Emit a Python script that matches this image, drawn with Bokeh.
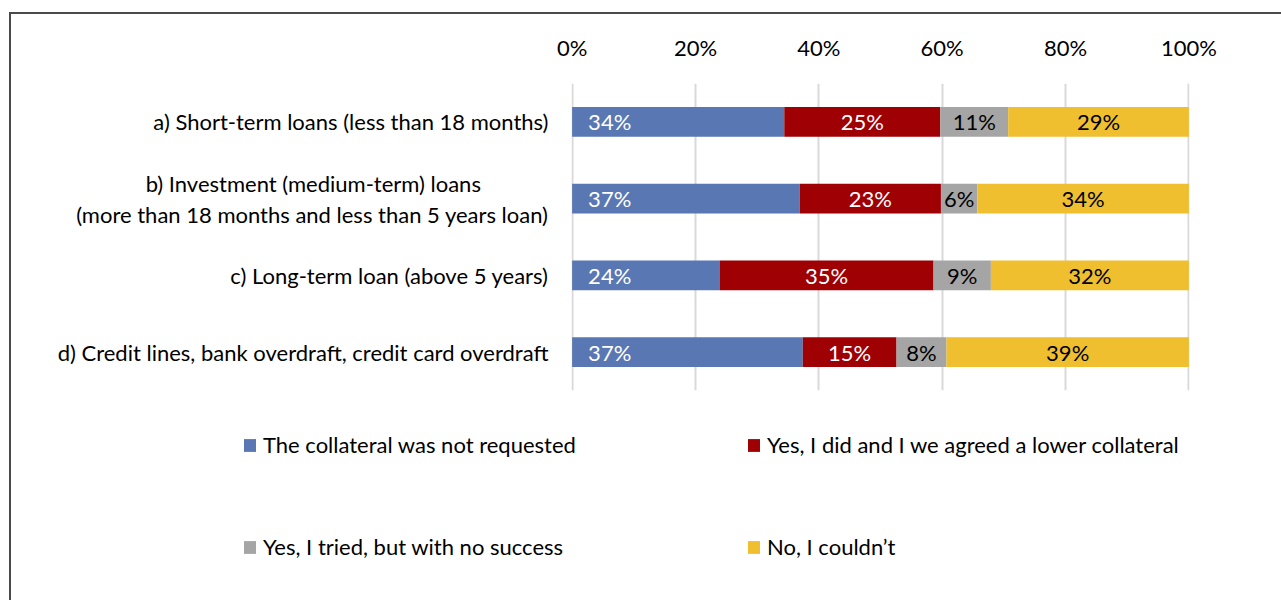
from bokeh.plotting import figure
from bokeh.layouts import column
from bokeh.models import (FactorRange, Range1d, Legend, LegendItem, ColumnDataSource,
                          PrintfTickFormatter, FixedTicker)
from bokeh.core.properties import value
from bokeh.embed import file_html
from bokeh.resources import INLINE

NB = "\u00a0"
categories = [
    "a) Short-term loans (less than 18 months)",
    "b) Investment (medium-term) loans" + NB * 12 + "\n(more than 18 months and less than 5 years loan)",
    "c) Long-term loan (above 5 years)",
    "d) Credit lines, bank overdraft, credit card overdraft",
]
series_names = [
    "The collateral was not requested",
    "Yes, I did and I we agreed a lower collateral",
    "Yes, I tried, but with no success",
    "No, I couldn\u2019t",
]
not_requested = [34.4, 36.9, 23.9, 37.4]
agreed_lower = [25.3, 22.9, 34.7, 15.2]
tried_no_success = [11.0, 5.9, 9.3, 8.1]
could_not = [29.3, 34.3, 32.1, 39.3]
tick_values = [0, 20, 40, 60, 80, 100]

colors = ["#5977b3", "#9e0004", "#a5a5a5", "#efbf2f"]
label_colors = ["white", "white", "black", "black"]
FONT = "Lato"
FS = "22px"

keys = ["s0", "s1", "s2", "s3"]
series = [not_requested, agreed_lower, tried_no_success, could_not]
data = {"cat": categories}
for k, s in zip(keys, series):
    data[k] = s
src = ColumnDataSource(data)

p = figure(
    width=1270, height=386,
    y_range=FactorRange(factors=list(reversed(categories))),
    x_range=Range1d(-0.1, 100.1),
    x_axis_location="above",
    output_backend="svg", toolbar_location=None,
    min_border_left=560, min_border_right=92, min_border_top=69, min_border_bottom=10,
)
p.frame_align = False
p.outline_line_color = None

renderers = p.hbar_stack(keys, y="cat", height=0.39, color=colors, source=src, line_width=0)

# data labels
for i, (k, s) in enumerate(zip(keys, series)):
    starts = [sum(series[j][r] for j in range(i)) for r in range(len(categories))]
    centers = [st + v / 2 for st, v in zip(starts, s)]
    texts = ["%d%%" % round(v) for v in s]
    if i == 0:
        lsrc = ColumnDataSource(dict(x=starts, y=categories, t=texts))
        p.text(x="x", y="y", text="t", source=lsrc, x_offset=16, text_align="left",
               text_baseline="middle", text_color=label_colors[i],
               text_font=value(FONT), text_font_size=FS)
    else:
        lsrc = ColumnDataSource(dict(x=centers, y=categories, t=texts))
        p.text(x="x", y="y", text="t", source=lsrc, text_align="center",
               text_baseline="middle", text_color=label_colors[i],
               text_font=value(FONT), text_font_size=FS)

p.xaxis.ticker = FixedTicker(ticks=tick_values)
p.xaxis.formatter = PrintfTickFormatter(format="%d%%")
for ax in (p.xaxis[0], p.yaxis[0]):
    ax.axis_line_color = None
    ax.major_tick_line_color = None
    ax.minor_tick_line_color = None
    ax.major_tick_out = 0
    ax.major_tick_in = 0
    ax.minor_tick_out = 0
    ax.major_label_text_font = FONT
    ax.major_label_text_font_size = FS
    ax.major_label_text_color = "black"
p.xaxis.major_label_standoff = 23
p.yaxis.major_label_standoff = 23
p.yaxis.major_label_text_line_height = 1.14

p.xgrid.grid_line_color = "#d9d9d9"
p.xgrid.grid_line_width = 2
p.ygrid.grid_line_color = None

# legend panel below the chart (hidden copies of the series provide the legend swatches)
q = figure(width=1270, height=200, x_range=Range1d(0, 100),
           y_range=FactorRange(factors=list(reversed(categories))),
           x_axis_location=None, y_axis_location=None, min_border=0,
           output_backend="svg", toolbar_location=None)
q.frame_align = False
q.outline_line_color = None
q.grid.visible = False
legend_renderers = q.hbar_stack(keys, y="cat", height=0.39, color=colors, source=src,
                                line_width=0, visible=False)

positions = [(231, 142), (735, 142), (231, 40), (735, 40)]
for r, name, loc in zip(legend_renderers, series_names, positions):
    lg = Legend(items=[LegendItem(label=name, renderers=[r])], location=loc,
                glyph_width=15, glyph_height=16, label_standoff=6, padding=0, margin=0,
                border_line_color=None, background_fill_alpha=0, inactive_fill_alpha=0,
                label_text_font=FONT, label_text_font_size=FS, label_text_color="black")
    q.add_layout(lg, "center")

layout = column(p, q, spacing=0)
layout.margin = (12, 0, 0, 9)
layout.styles = {"border-left": "2px solid #4a4a4a", "border-top": "2px solid #4a4a4a"}

open("out.html", "w").write(file_html(layout, INLINE))
